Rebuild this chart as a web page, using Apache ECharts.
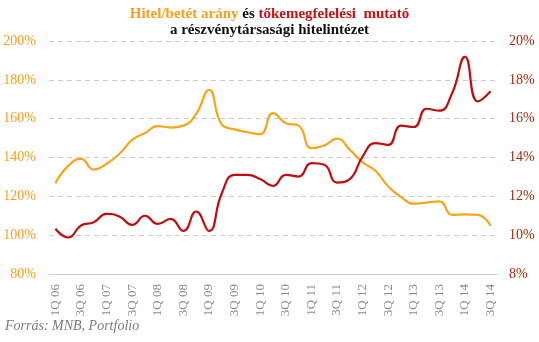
<!DOCTYPE html>
<html>
<head>
<meta charset="utf-8">
<script src="https://cdn.jsdelivr.net/npm/echarts@6/dist/echarts.min.js"></script>
<style>
  html, body { margin: 0; padding: 0; background: #fff; }
  #chart { width: 539px; height: 342px; }
</style>
</head>
<body>
<div id="chart"></div>
<script>
// Quarters from 1Q 06 to 3Q 14
const quarters = [
  '1Q 06','2Q 06','3Q 06','4Q 06',
  '1Q 07','2Q 07','3Q 07','4Q 07',
  '1Q 08','2Q 08','3Q 08','4Q 08',
  '1Q 09','2Q 09','3Q 09','4Q 09',
  '1Q 10','2Q 10','3Q 10','4Q 10',
  '1Q 11','2Q 11','3Q 11','4Q 11',
  '1Q 12','2Q 12','3Q 12','4Q 12',
  '1Q 13','2Q 13','3Q 13','4Q 13',
  '1Q 14','2Q 14','3Q 14'
];

// Hitel/betét arány (%), left axis
const loanToDeposit = [
  126.8, 135.7, 139.3, 133.8, 136.8, 141.9, 149.1, 152.6, 156.2, 155.4,
  156.4, 162.5, 174.9, 156.9, 154.5, 153.0, 152.0, 162.9, 157.7, 156.4,
  144.8, 146.2, 149.7, 144.0, 137.5, 133.2, 125.1, 119.6, 116.2, 116.8,
  117.4, 110.5, 110.7, 110.5, 104.8
];

// Tőkemegfelelési mutató (%), right axis
const capitalAdequacy = [
  10.33, 9.88, 10.50, 10.67, 11.10, 10.96, 10.53, 11.00, 10.58, 10.84,
  10.22, 11.22, 10.22, 12.16, 13.11, 13.11, 12.89, 12.54, 13.11, 13.02,
  13.71, 13.63, 12.71, 12.89, 14.05, 14.74, 14.65, 15.64, 15.57, 16.51,
  16.41, 17.32, 19.18, 16.89, 17.41
];

const leftTicks = { min: 80, max: 200, step: 20 };
const rightTicks = { min: 8, max: 20, step: 2 };

const ORANGE = '#FBA31C';
const RED = '#C00D12';
const SERIF = '"Liberation Serif", "DejaVu Serif", serif';

const chart = echarts.init(document.getElementById('chart'), null, { renderer: 'canvas' });

chart.setOption({
  animation: false,
  backgroundColor: '#ffffff',
  title: {
    left: 'center',
    top: 1,
    text: '{o|Hitel/betét arány} {k|és} {r|tőkemegfelelési  mutató}\n{k|a részvénytársasági hitelintézet}',
    textStyle: {
      fontFamily: SERIF,
      fontSize: 15,
      fontWeight: 'bold',
      lineHeight: 16,
      rich: {
        o: { color: '#F9A01B', fontFamily: SERIF, fontSize: 15, fontWeight: 'bold', lineHeight: 16 },
        k: { color: '#111111', fontFamily: SERIF, fontSize: 15, fontWeight: 'bold', lineHeight: 16 },
        r: { color: '#C8101A', fontFamily: SERIF, fontSize: 15, fontWeight: 'bold', lineHeight: 16 }
      }
    }
  },
  graphic: [{
    type: 'text',
    left: 5,
    top: 319,
    style: {
      text: 'Forrás: MNB, Portfolio',
      fill: '#7a7a7a',
      font: 'italic 14px ' + SERIF
    }
  }],
  grid: { left: 49, right: 42, top: 41, bottom: 68 },
  xAxis: {
    type: 'category',
    data: quarters,
    boundaryGap: true,
    axisLine: { show: true, lineStyle: { color: '#cccccc', width: 1 } },
    axisTick: { show: false },
    axisLabel: {
      interval: 1,
      rotate: 90,
      margin: 10,
      color: '#8a8a8a',
      fontFamily: SERIF,
      fontSize: 13
    },
    splitLine: { show: false }
  },
  yAxis: [{
    type: 'value',
    min: leftTicks.min,
    max: leftTicks.max,
    interval: leftTicks.step,
    axisLine: { show: false },
    axisTick: { show: false },
    axisLabel: {
      color: '#F9A01B',
      fontFamily: SERIF,
      fontSize: 14,
      margin: 13,
      formatter: '{value}%'
    },
    splitLine: { show: true, lineStyle: { color: '#cccccc', type: [5, 4], width: 1 } }
  }, {
    type: 'value',
    min: rightTicks.min,
    max: rightTicks.max,
    interval: rightTicks.step,
    axisLine: { show: false },
    axisTick: { show: false },
    axisLabel: {
      color: '#9C2A0C',
      fontFamily: SERIF,
      fontSize: 14,
      margin: 12,
      formatter: '{value}%'
    },
    splitLine: { show: false }
  }],
  series: [{
    name: 'Hitel/betét arány',
    type: 'line',
    yAxisIndex: 0,
    data: loanToDeposit,
    smooth: 0.5,
    symbol: 'none',
    lineStyle: { color: ORANGE, width: 2.2 },
    z: 2
  }, {
    name: 'Tőkemegfelelési mutató',
    type: 'line',
    yAxisIndex: 1,
    data: capitalAdequacy,
    smooth: 0.5,
    symbol: 'none',
    lineStyle: { color: RED, width: 2.2 },
    z: 3
  }]
});
</script>
</body>
</html>
